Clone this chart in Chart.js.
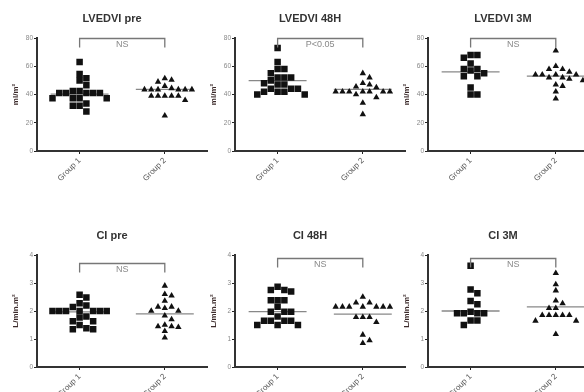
<!DOCTYPE html>
<html>
<head>
<meta charset="utf-8">
<script src="https://cdn.jsdelivr.net/npm/chart.js@4.4.0/dist/chart.umd.min.js"></script>
<style>
  html, body { margin: 0; padding: 0; background: #fff; width: 584px; height: 392px; overflow: hidden; position: relative; }
  canvas { position: absolute; }
</style>
</head>
<body>
<script>
/* ─── Dados ─── */
const TITULOS  = ['LVEDVI pre', 'LVEDVI 48H', 'LVEDVI 3M', 'CI pre', 'CI 48H', 'CI 3M'];
const GRUPOS   = ['Group 1', 'Group 2'];
const UNIDADES = ['ml/m²', 'ml/m²', 'ml/m²', 'L/min.m²', 'L/min.m²', 'L/min.m²'];
const SIGNIF   = ['NS', 'P<0.05', 'NS', 'NS', 'NS', 'NS'];
const Y_MAX    = [80, 80, 80, 4, 4, 4];
const Y_STEP   = [20, 20, 20, 1, 1, 1];
const CHAVE    = [80, 80, 80, 3.72, 3.9, 3.9];   // altura do colchete
const MEDIANA_G1 = [40.3, 49.8, 56, 1.97, 1.98, 2.0];
const MEDIANA_G2 = [43.6, 43.6, 53, 1.9, 1.89, 2.15];

const lvedviPreG1 = [63, 54.5, 51.5, 50, 46.5, 42.5, 42.5, 41, 41, 41, 41, 41, 37.3, 37.3, 37.3, 37.3, 33.7, 32, 32, 28];
const lvedviPreG2 = [51.4, 50.3, 49, 46, 44.4, 43.5, 43.5, 43.5, 43.5, 43.5, 43.5, 39, 39, 39, 39, 39, 36, 25];
const lvedvi48G1  = [73, 63, 58, 58, 55, 52, 52, 52, 50, 48, 47, 47, 44, 44, 44, 42, 42, 42, 40, 40];
const lvedvi48G2  = [55, 52, 48, 47, 45.5, 45, 42, 42, 42, 42, 42, 42, 42, 40, 38, 34, 26];
const lvedvi3mG1  = [68, 68, 66, 62, 58, 58, 57, 53, 53, 55, 45, 40, 40];
const lvedvi3mG2  = [71, 60, 58, 58, 56, 54, 54, 54, 54, 52, 52, 51, 50, 47, 46, 42, 37];
const ciPreG1 = [2.58, 2.48, 2.28, 2.2, 2.14, 2.0, 2.0, 2.0, 2.0, 2.0, 2.0, 2.0, 1.8, 1.77, 1.63, 1.63, 1.5, 1.38, 1.35, 1.35];
const ciPreG2 = [2.9, 2.6, 2.55, 2.36, 2.15, 2.15, 2.1, 2.0, 2.0, 1.83, 1.7, 1.5, 1.45, 1.45, 1.42, 1.28, 1.05];
const ci48G1  = [2.87, 2.75, 2.75, 2.7, 2.38, 2.38, 2.38, 2.15, 1.97, 1.97, 1.97, 1.8, 1.65, 1.65, 1.65, 1.65, 1.5, 1.5, 1.5];
const ci48G2  = [2.5, 2.3, 2.3, 2.15, 2.15, 2.15, 2.15, 2.15, 2.15, 2.15, 1.78, 1.78, 1.78, 1.6, 1.15, 0.95, 0.85];
const ci3mG1  = [3.62, 2.77, 2.63, 2.36, 2.24, 1.97, 1.92, 1.92, 1.92, 1.92, 1.66, 1.66, 1.5];
const ci3mG2  = [3.35, 2.95, 2.73, 2.37, 2.27, 2.1, 2.1, 1.85, 1.85, 1.85, 1.85, 1.85, 1.65, 1.65, 1.17];

const SERIES_G1 = [lvedviPreG1, lvedvi48G1, lvedvi3mG1, ciPreG1, ci48G1, ci3mG1];
const SERIES_G2 = [lvedviPreG2, lvedvi48G2, lvedvi3mG2, ciPreG2, ci48G2, ci3mG2];

/* ─── Layout dos painéis ─── */
const COLUNAS = [0, 198, 391];
const LINHAS = [
  { top: 0,   h: 196, padTop: 38, xH: 45 },
  { top: 218, h: 174, padTop: 37, xH: 25 }
];
const PLOT_H = 113;

Chart.defaults.font.family = "Arial, 'Liberation Sans', sans-serif";

/* espalha os pontos lateralmente sem sobrepor (tipo Prism) */
function espalhar(valores, centro, yMax) {
  const dx = 6.8 / 85.5;
  const dy = 6.2 * yMax / PLOT_H;
  const colocados = [];
  const saida = new Array(valores.length);
  const ordem = valores.map((v, i) => i).sort((a, b) => valores[b] - valores[a]);
  ordem.forEach(i => {
    const y = valores[i];
    let k = 0, off = 0;
    while (true) {
      off = k === 0 ? 0 : (k % 2 ? 1 : -1) * Math.ceil(k / 2) * dx;
      if (!colocados.some(p => Math.abs(p.y - y) < dy && Math.abs(p.x - off) < dx * 0.98)) break;
      k++;
    }
    colocados.push({ x: off, y });
    saida[i] = { x: centro + off, y };
  });
  return saida;
}

/* título + colchete de significância */
const painelPlugin = {
  id: 'painel',
  afterDraw(chart, args, opts) {
    const { ctx, chartArea, scales: { x, y } } = chart;
    ctx.save();
    ctx.fillStyle = '#333';
    ctx.font = "bold 11px Arial, 'Liberation Sans', sans-serif";
    ctx.textAlign = 'center';
    ctx.textBaseline = 'middle';
    ctx.fillText(opts.titulo, chartArea.left + 75, chartArea.top - 19);

    const x1 = x.getPixelForValue(1), x2 = x.getPixelForValue(2);
    const yb = Math.round(y.getPixelForValue(opts.chave)) + 0.5;
    ctx.strokeStyle = '#777';
    ctx.lineWidth = 1.3;
    ctx.beginPath();
    ctx.moveTo(x1, yb + 9);
    ctx.lineTo(x1, yb);
    ctx.lineTo(x2, yb);
    ctx.lineTo(x2, yb + 9);
    ctx.stroke();
    ctx.fillStyle = '#888';
    ctx.font = "9px Arial, 'Liberation Sans', sans-serif";
    ctx.fillText(opts.sig, (x1 + x2) / 2, yb + 6);
    ctx.restore();
  }
};

function renderPainel(i) {
  const linha = LINHAS[Math.floor(i / 3)];
  const canvas = document.createElement('canvas');
  canvas.width = 212;
  canvas.height = linha.h;
  canvas.style.left = COLUNAS[i % 3] + 'px';
  canvas.style.top = linha.top + 'px';
  document.body.appendChild(canvas);

  const yMax = Y_MAX[i];
  new Chart(canvas, {
    type: 'scatter',
    data: {
      datasets: [
        {
          data: espalhar(SERIES_G1[i], 1, yMax),
          pointStyle: 'rect',
          pointRadius: 4.6,
          backgroundColor: '#111',
          borderWidth: 0
        },
        {
          data: espalhar(SERIES_G2[i], 2, yMax),
          pointStyle: 'triangle',
          pointRadius: 3.7,
          backgroundColor: '#111',
          borderWidth: 0
        },
        {
          type: 'line',
          data: [{ x: 0.66, y: MEDIANA_G1[i] }, { x: 1.34, y: MEDIANA_G1[i] }],
          borderColor: '#888',
          borderWidth: 1.3,
          pointRadius: 0
        },
        {
          type: 'line',
          data: [{ x: 1.66, y: MEDIANA_G2[i] }, { x: 2.34, y: MEDIANA_G2[i] }],
          borderColor: '#888',
          borderWidth: 1.3,
          pointRadius: 0
        }
      ]
    },
    options: {
      responsive: false,
      animation: false,
      layout: { padding: { top: linha.padTop, right: 4, left: 0, bottom: 0 } },
      plugins: {
        legend: { display: false },
        tooltip: { enabled: false },
        painel: { titulo: TITULOS[i], sig: SIGNIF[i], chave: CHAVE[i] }
      },
      scales: {
        x: {
          type: 'linear',
          min: 0.5,
          max: 2.5,
          afterBuildTicks: s => { s.ticks = [{ value: 1 }, { value: 2 }]; },
          afterFit: s => { s.height = linha.xH; },
          grid: { drawOnChartArea: false, tickLength: 3, color: '#222' },
          border: { color: '#333', width: 2 },
          ticks: {
            autoSkip: false,
            minRotation: 45,
            maxRotation: 45,
            padding: 2,
            color: '#555',
            font: { size: 8 },
            callback: v => GRUPOS[v - 1]
          }
        },
        y: {
          min: 0,
          max: yMax,
          afterFit: s => { s.width = 37; },
          grid: { drawOnChartArea: false, tickLength: 3, color: '#222' },
          border: { color: '#333', width: 2 },
          ticks: { stepSize: Y_STEP[i], padding: 1, color: '#888', font: { size: 6.5 } },
          title: {
            display: true,
            text: UNIDADES[i],
            color: '#3b2a2a',
            font: { size: 8, weight: 'bold' },
            padding: { top: 11, bottom: 0 }
          }
        }
      }
    },
    plugins: [painelPlugin]
  });
}

for (let i = 0; i < 6; i++) renderPainel(i);
</script>
</body>
</html>
